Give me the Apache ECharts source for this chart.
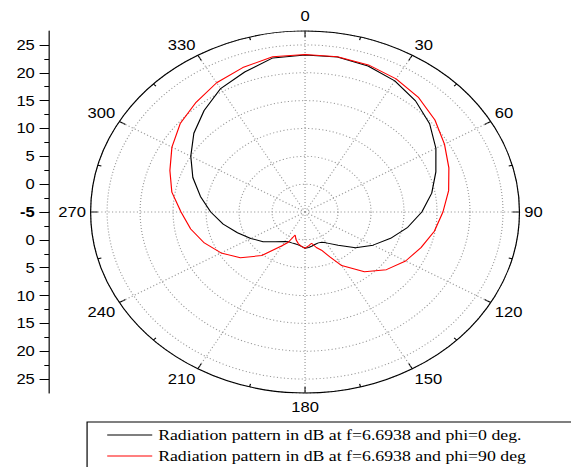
<!DOCTYPE html>
<html><head><meta charset="utf-8">
<script src="https://cdn.jsdelivr.net/npm/echarts@6/dist/echarts.min.js"></script>
<style>
html,body{margin:0;padding:0;background:#fff;overflow:hidden;width:571px;height:467px}
#wrap{width:571px;height:467px;overflow:hidden;position:relative}
#c{width:482px;height:540px;transform:scaleX(1.18465);transform-origin:0 0}
</style></head><body><div id="wrap"><div id="c"></div></div>
<script>
// angle in degrees (0 = top, clockwise)
const angles = [0,10,20,30,40,50,60,70,80,90,100,110,120,130,140,150,
  155,160,165,170,175,180,185,190,195,200,205,210,
  220,230,240,250,260,270,280,290,300,310,320,330,340,350,360];
// gain in dB, phi = 0 deg (black)
const phi0 = [23.2,23.25,22.9,22.2,21.05,19.65,17.9,16.1,14.5,12.7,10.8,8.8,6.9,5.0,2.8,1.4,
  1.0,0.9,1.0,1.2,1.4,1.5,1.2,1.0,0.9,0.9,0.9,1.1,
  2.0,3.3,4.5,5.9,7.6,9.3,11.1,13.1,15.0,17.0,18.8,20.6,21.75,23.1,23.2];
// gain in dB, phi = 90 deg (red)
const phi90 = [23.3,23.3,23.1,22.6,21.8,20.7,19.4,18.2,17.1,15.9,14.9,13.7,12.6,11.1,9.0,6.1,
  3.9,2.3,1.6,0.7,1.1,1.5,1.2,0.8,0.2,-0.6,1.0,2.0,
  5.2,7.8,9.7,11.25,12.6,13.8,15.5,16.8,18.3,19.7,20.7,21.8,22.6,23.3,23.3];
const seriesNames = ['Radiation pattern in dB at f=6.6938 and phi=0 deg.',
                     'Radiation pattern in dB at f=6.6938 and phi=90 deg'];
const radialTicks = [-5,0,5,10,15,20,25];
const rMin = -5, rMax = 27.5, rStep = 5;
const angleStep = 30;

const chart = echarts.init(document.getElementById('c'), null, {renderer:'svg'});
const font = 'Liberation Sans, Arial, sans-serif';
function yAx(gi, inverse){
  return {gridIndex:gi, type:'value', min:rMin, max:rMax, interval:rStep, inverse:inverse,
    position:'left',
    axisLine:{show:true, lineStyle:{color:'#000', width:1}},
    axisTick:{show:true, length:8, lineStyle:{color:'#000'}, customValues:radialTicks},
    minorTick:{show:true, splitNumber:2, length:4, lineStyle:{color:'#000'}},
    axisLabel:{color:'#000', fontSize:14, fontFamily:font, margin:12,
      customValues: inverse ? radialTicks.slice(1) : radialTicks,
      formatter:function(v){ return v===rMin ? '{k|' + v + '}' : String(v); },
      rich:{k:{fontSize:14, fontFamily:font, fontWeight:'bold', color:'#000'}}},
    splitLine:{show:false}};
}
chart.setOption({
  animation:false,
  backgroundColor:'#fff',
  grid:[{left:41.4, top:31, width:10, height:181},
        {left:41.4, top:212, width:10, height:181}],
  xAxis:[{gridIndex:0, show:false, min:0, max:1},{gridIndex:1, show:false, min:0, max:1}],
  yAxis:[yAx(0,false), yAx(1,true)],
  polar:{center:[257.5,212], radius:181},
  angleAxis:{type:'value', min:0, max:360, interval:angleStep, startAngle:90, clockwise:true,
    axisLine:{lineStyle:{color:'#000', width:1}},
    axisTick:{show:true, inside:true, length:6, lineStyle:{color:'#000'}},
    minorTick:{show:true, splitNumber:2, length:3, lineStyle:{color:'#000'}},
    axisLabel:{color:'#000', fontSize:14, fontFamily:font, margin:4,
      formatter:function(v){ return v===0 ? '{t|0}' : (v===180 ? '{b|180}' : String(v)); },
      rich:{t:{fontSize:14, fontFamily:font, color:'#000', padding:[0,0,4,0]},
            b:{fontSize:14, fontFamily:font, color:'#000', padding:[3,0,0,0]}}},
    splitLine:{show:true, lineStyle:{color:'#999', width:1, type:[1,2]}}},
  radiusAxis:{type:'value', min:rMin, max:rMax, interval:rStep,
    axisLine:{show:false}, axisTick:{show:false}, axisLabel:{show:false},
    splitLine:{show:true, lineStyle:{color:'#999', width:1, type:[1,2]}}},
  legend:{data:seriesNames, orient:'vertical', left:73.5, top:422, selectedMode:false,
    borderColor:'#000', borderWidth:1, padding:[4,40,4,17], itemGap:3,
    itemWidth:38, itemHeight:1, icon:'rect',
    textStyle:{fontFamily:'Liberation Serif, Times New Roman, serif', fontSize:15, color:'#000', lineHeight:18}},
  series:[
    {name:seriesNames[0], type:'line', coordinateSystem:'polar', showSymbol:false, symbol:'none',
      data:angles.map((a,i)=>[phi0[i], a]),
      lineStyle:{color:'#000', width:1}, itemStyle:{color:'#000'}},
    {name:seriesNames[1], type:'line', coordinateSystem:'polar', showSymbol:false, symbol:'none',
      data:angles.map((a,i)=>[phi90[i], a]),
      lineStyle:{color:'#ff0000', width:1}, itemStyle:{color:'#ff0000'}}
  ]
});
</script></body></html>
